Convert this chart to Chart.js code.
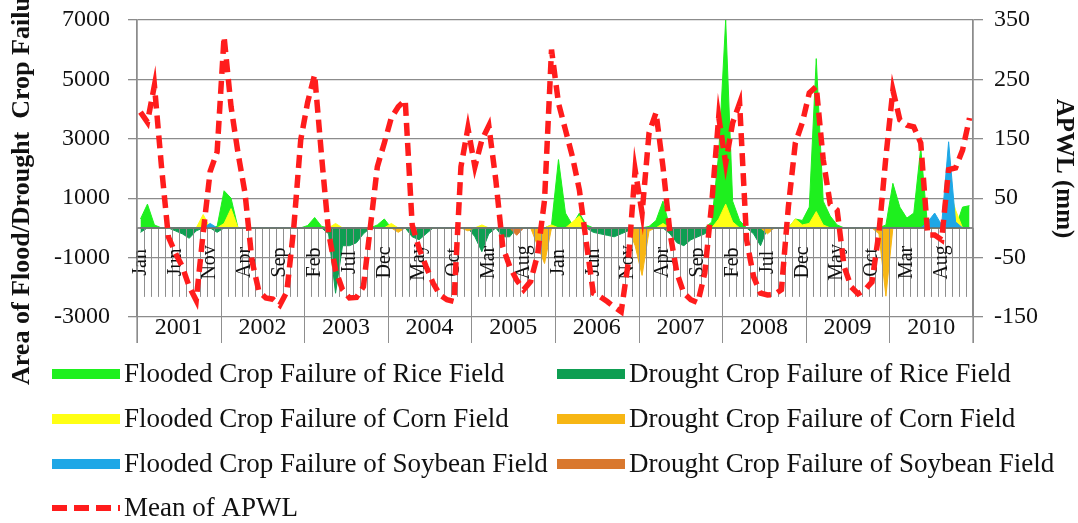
<!DOCTYPE html>
<html>
<head>
<meta charset="utf-8">
<script src="https://cdn.jsdelivr.net/npm/chart.js@4.4.0/dist/chart.umd.min.js"></script>
<style>
  html, body { margin: 0; padding: 0; background: #fff; }
  #wrap { width: 1078px; height: 523px; }
</style>
</head>
<body>
<div id="wrap"><canvas id="crop-chart" width="1078" height="523"></canvas></div>
<script>
const years = ['2001', '2002', '2003', '2004', '2005', '2006', '2007', '2008', '2009', '2010'];
const monthNames = ['Jan', 'Feb', 'Mar', 'Apr', 'May', 'Jun', 'Jul', 'Aug', 'Sep', 'Oct', 'Nov', 'Dec'];
const monthLabelStep = 5;

// area of crop failure (ha), one value per month 2001-2010
const floodedRice = [
  300, 800, 100, 0, 0, 0, 0, 0, 0, 0, 0, 50,
  1250, 1000, 0, 0, 0, 0, 0, 0, 0, 0, 0, 0,
  80, 350, 50, 0, 0, 0, 0, 0, 0, 0, 100, 300,
  0, 0, 0, 0, 0, 0, 0, 0, 0, 0, 0, 0,
  0, 0, 0, 0, 0, 0, 0, 0, 0, 0, 0, 100,
  2300, 500, 100, 500, 100, 0, 0, 0, 0, 0, 0, 0,
  0, 50, 250, 900, 0, 0, 0, 0, 0, 0, 200, 2500,
  7000, 900, 250, 0, 0, 0, 0, 0, 0, 0, 300, 250,
  700, 5700, 900, 400, 100, 0, 0, 0, 0, 0, 0, 100,
  1500, 700, 330, 500, 2700, 0, 0, 0, 0, 0, 700, 750
];
const droughtRice = [
  -150, 0, 0, 0, 0, -100, -200, -350, -100, 0, 0, -150,
  0, 0, 0, 0, 0, 0, 0, 0, 0, 0, 0, 0,
  0, 0, 0, -200, -2200, -600, -600, -500, -200, 0, 0, 0,
  0, 0, 0, -300, -400, -200, 0, 0, 0, 0, 0, 0,
  -300, -800, -200, 0, -300, -300, 0, 0, 0, 0, 0, 0,
  0, 0, 0, 0, 0, -150, -200, -250, -300, -200, -100, 0,
  0, 0, 0, 0, -200, -500, -600, -400, -300, -200, 0, 0,
  0, 0, 0, 0, -200, -600, 0, 0, 0, 0, 0, 0,
  0, 0, 0, 0, 0, 0, 0, 0, 0, 0, 0, 0,
  0, 0, 0, 0, 0, 0, 0, 0, 0, 0, 0, 0
];
const floodedCorn = [
  0, 0, 0, 0, 0, 0, 0, 0, 0, 450, 0, 0,
  150, 650, 0, 0, 0, 0, 0, 0, 0, 0, 0, 0,
  0, 0, 0, 0, 150, 0, 0, 0, 0, 0, 0, 0,
  150, 0, 0, 0, 0, 0, 0, 0, 0, 0, 0, 0,
  0, 100, 0, 0, 0, 0, 0, 0, 0, 0, 0, 100,
  0, 0, 200, 400, 0, 0, 0, 0, 0, 0, 0, 0,
  0, 0, 0, 150, 0, 0, 0, 0, 0, 0, 0, 300,
  800, 200, 0, 0, 0, 0, 0, 0, 0, 0, 300, 100,
  150, 550, 100, 0, 0, 0, 0, 0, 0, 0, 0, 0,
  0, 0, 0, 0, 0, 0, 0, 0, 1400, 600, 0, 0
];
const droughtCorn = [
  0, 0, 0, 0, 0, 0, 0, 0, 0, 0, 0, 0,
  0, 0, 0, 0, 0, 0, 0, 0, 0, 0, 0, 0,
  0, 0, 0, 0, 0, 0, 0, 0, 0, 0, 0, 0,
  0, -150, 0, 0, 0, 0, 0, 0, 0, 0, 0, -100,
  0, 0, 0, 0, 0, 0, 0, 0, 0, -600, -1200, 0,
  0, 0, 0, 0, 0, 0, 0, 0, 0, 0, 0, -600,
  -1600, -100, 0, 0, 0, 0, 0, 0, 0, 0, 0, 0,
  0, 0, 0, 0, 0, 0, -200, 0, 0, 0, 0, 0,
  0, 0, 0, 0, 0, 0, 0, 0, 0, 0, -200, -2300,
  0, 0, 0, 0, 0, 0, 0, 0, 0, 0, 0, 0
];
const floodedSoybean = [
  0, 0, 0, 0, 0, 0, 0, 0, 0, 0, 150, 0,
  0, 0, 0, 0, 0, 0, 0, 0, 0, 0, 0, 0,
  0, 0, 0, 0, 0, 0, 0, 0, 0, 0, 0, 0,
  0, 0, 0, 0, 0, 0, 0, 0, 0, 0, 0, 0,
  0, 0, 0, 0, 0, 0, 0, 0, 0, 0, 0, 0,
  0, 0, 0, 0, 0, 0, 0, 0, 0, 0, 0, 0,
  0, 0, 0, 0, 0, 0, 0, 0, 0, 0, 0, 0,
  0, 0, 0, 0, 0, 0, 0, 0, 0, 0, 0, 0,
  0, 0, 0, 0, 0, 0, 0, 0, 0, 0, 0, 0,
  0, 0, 0, 0, 0, 200, 500, 100, 2900, 200, 0, 0
];
const droughtSoybean = [
  0, 0, 0, 0, 0, 0, 0, 0, 0, 0, 0, 0,
  0, 0, 0, 0, 0, 0, 0, 0, 0, 0, 0, 0,
  0, 0, 0, 0, 0, 0, 0, 0, 0, 0, 0, 0,
  0, 0, 0, 0, 0, 0, 0, 0, 0, 0, 0, 0,
  0, 0, 0, 0, 0, 0, -250, 0, 0, 0, 0, 0,
  0, 0, 0, 0, 0, 0, 0, 0, 0, 0, 0, 0,
  0, 0, 0, 0, 0, 0, 0, 0, 0, 0, 0, 0,
  0, 0, 0, 0, 0, 0, 0, 0, 0, 0, 0, 0,
  0, 0, 0, 0, 0, 0, 0, 0, 0, 0, 0, 0,
  0, 0, 0, 0, 0, 0, 0, 0, 0, 0, 0, 0
];
// mean of APWL (mm), right axis
const meanApwl = [
  195, 178, 240, 105, -15, -42, -65, -99, -122, -8, 95, 128,
  322, 204, 126, 59, -55, -107, -118, -120, -130, -108, 0, 148,
  212, 258, 120, -8, -71, -104, -118, -117, -99, 2, 103, 143,
  185, 204, 215, 5, -35, -65, -93, -113, -121, -124, 103, 168,
  103, 148, 172, 81, -32, -65, -88, -104, -90, -45, 47, 300,
  210, 165, 120, 64, -25, -110, -116, -124, -133, -141, -60, 98,
  25, 160, 194, 103, -8, -76, -110, -121, -126, -76, 42, 187,
  109, 177, 210, -20, -82, -110, -113, -112, -104, 36, 143, 177,
  227, 238, 115, 40, 30, -65, -99, -111, -104, -91, -8, 120,
  232, 182, 173, 170, 143, -12, -12, -20, 98, 101, 131, 185
];

const months = [];
years.forEach(yr => monthNames.forEach(m => months.push(m + ' ' + yr)));

const serif = '"Liberation Serif", "Times New Roman", serif';
const gridGray = '#8c8c8c';

function area(label, data, color, order) {
  return {
    label: label, data: data, yAxisID: 'y', order: order,
    backgroundColor: color, borderColor: color, borderWidth: 1,
    fill: 'origin', pointRadius: 0, tension: 0
  };
}

const excelAxis = {
  id: 'excelAxis',
  beforeDatasetDraw(chart, args) {
    // draw the category axis just before the red line so it sits over the areas
    if (args.index !== 6) return;
    const ctx = chart.ctx, x = chart.scales.x, y = chart.scales.y;
    const y0 = y.getPixelForValue(0);
    const monthEnd = y0 + 69, yearEnd = y.bottom + 26;
    const step = x.getPixelForValue(1) - x.getPixelForValue(0);
    ctx.save();
    ctx.strokeStyle = '#8f8f8f';
    ctx.lineWidth = 1;
    for (let i = 0; i <= months.length; i++) {
      const px = Math.round(x.getPixelForValue(0) + (i - 0.5) * step) + 0.5;
      ctx.beginPath();
      ctx.moveTo(px, y0);
      ctx.lineTo(px, i % 12 === 0 ? yearEnd : monthEnd);
      ctx.stroke();
    }
    ctx.strokeStyle = '#6a6a6a';
    ctx.lineWidth = 1.5;
    ctx.beginPath();
    ctx.moveTo(x.left, y0);
    ctx.lineTo(x.right, y0);
    ctx.stroke();
    ctx.fillStyle = '#111';
    ctx.font = '20px ' + serif;
    ctx.textAlign = 'center';
    ctx.textBaseline = 'middle';
    for (let i = 0; i < months.length; i += monthLabelStep) {
      ctx.save();
      ctx.translate(x.getPixelForValue(i), (y0 + monthEnd) / 2);
      ctx.rotate(-Math.PI / 2);
      ctx.fillText(monthNames[i % 12], 0, 0);
      ctx.restore();
    }
    ctx.restore();
  },
  afterDraw(chart) {
    const ctx = chart.ctx, x = chart.scales.x, y = chart.scales.y;
    ctx.save();
    // year row
    ctx.fillStyle = '#111';
    ctx.font = '24px ' + serif;
    ctx.textAlign = 'center';
    ctx.textBaseline = 'middle';
    years.forEach((yr, k) => {
      const mid = (x.getPixelForValue(k * 12) + x.getPixelForValue(k * 12 + 11)) / 2;
      ctx.fillText(yr, mid, y.bottom + 11);
    });
    // outer frame lines down through the label rows
    ctx.strokeStyle = gridGray;
    ctx.lineWidth = 1.3;
    [x.left, x.right].forEach(px => {
      ctx.beginPath();
      ctx.moveTo(px, y.top);
      ctx.lineTo(px, y.bottom + 26);
      ctx.stroke();
    });
    // left axis title, anchored at its start (runs off the top like the original)
    ctx.save();
    ctx.translate(22, 385);
    ctx.rotate(-Math.PI / 2);
    ctx.font = 'bold 26px ' + serif;
    ctx.textAlign = 'left';
    ctx.fillText('Area of Flood/Drought  Crop Failure', 0, 0);
    ctx.restore();
    // legend in two columns
    const rows = [374, 419, 464, 508];
    const boxX = [52, 557], textX = [124, 629];
    ctx.font = '27px ' + serif;
    ctx.textAlign = 'left';
    chart.data.datasets.forEach((ds, i) => {
      const col = i < 6 ? i % 2 : 0;
      const row = i < 6 ? Math.floor(i / 2) : 3;
      const cy = rows[row];
      if (ds.fill) {
        ctx.fillStyle = ds.backgroundColor;
        ctx.fillRect(boxX[col], cy - 5, 68, 10);
      } else {
        ctx.strokeStyle = ds.borderColor;
        ctx.lineWidth = 6;
        ctx.setLineDash([15, 7]);
        ctx.beginPath();
        ctx.moveTo(boxX[col], cy);
        ctx.lineTo(boxX[col] + 68, cy);
        ctx.stroke();
        ctx.setLineDash([]);
      }
      ctx.fillStyle = '#111';
      ctx.fillText(ds.label, textX[col], cy + 1);
    });
    ctx.restore();
  }
};

function trimEnds(scale) {
  scale.paddingTop = 0;
  scale.paddingBottom = 0;
}

new Chart(document.getElementById('crop-chart'), {
  type: 'line',
  data: {
    labels: months,
    datasets: [
      area('Flooded Crop Failure of Rice Field', floodedRice, '#1ef01e', 5),
      area('Drought Crop Failure of Rice Field', droughtRice, '#0e9e52', 6),
      area('Flooded Crop Failure of Corn Field', floodedCorn, '#ffff14', 3),
      area('Drought Crop Failure of Corn Field', droughtCorn, '#f7b614', 4),
      area('Flooded Crop Failure of Soybean Field', floodedSoybean, '#1ea7e6', 1),
      area('Drought Crop Failure of Soybean Field', droughtSoybean, '#d9782e', 2),
      {
        label: 'Mean of APWL', data: meanApwl, yAxisID: 'y1', order: 0,
        borderColor: '#ff1c1c', backgroundColor: '#ff1c1c', borderWidth: 5.5,
        borderDash: [13, 7], fill: false, pointRadius: 0, tension: 0
      }
    ]
  },
  options: {
    responsive: false,
    animation: false,
    layout: { padding: { top: 20, bottom: 206, left: 0, right: 0 } },
    plugins: { legend: { display: false }, tooltip: { enabled: false } },
    scales: {
      x: { type: 'category', offset: true, display: false },
      y: {
        position: 'left', min: -3000, max: 7000,
        afterFit: scale => { scale.width = 137; trimEnds(scale); },
        ticks: {
          stepSize: 2000, padding: 18, color: '#111',
          font: { family: serif, size: 24 },
          callback: v => String(v)
        },
        grid: { color: gridGray, lineWidth: 1.3, tickLength: 9 },
        border: { color: gridGray, width: 1.3 }
      },
      y1: {
        position: 'right', min: -150, max: 350,
        afterFit: scale => { scale.width = 105; trimEnds(scale); },
        ticks: { stepSize: 50, padding: 11, color: '#111', font: { family: serif, size: 24 } },
        grid: { drawOnChartArea: false, color: gridGray, lineWidth: 1.3, tickLength: 10 },
        border: { color: gridGray, width: 1.3 },
        title: {
          display: true, text: 'APWL (mm)', color: '#111', padding: 0,
          font: { family: serif, size: 25, weight: 'bold' }
        }
      }
    }
  },
  plugins: [excelAxis]
});
</script>
</body>
</html>
